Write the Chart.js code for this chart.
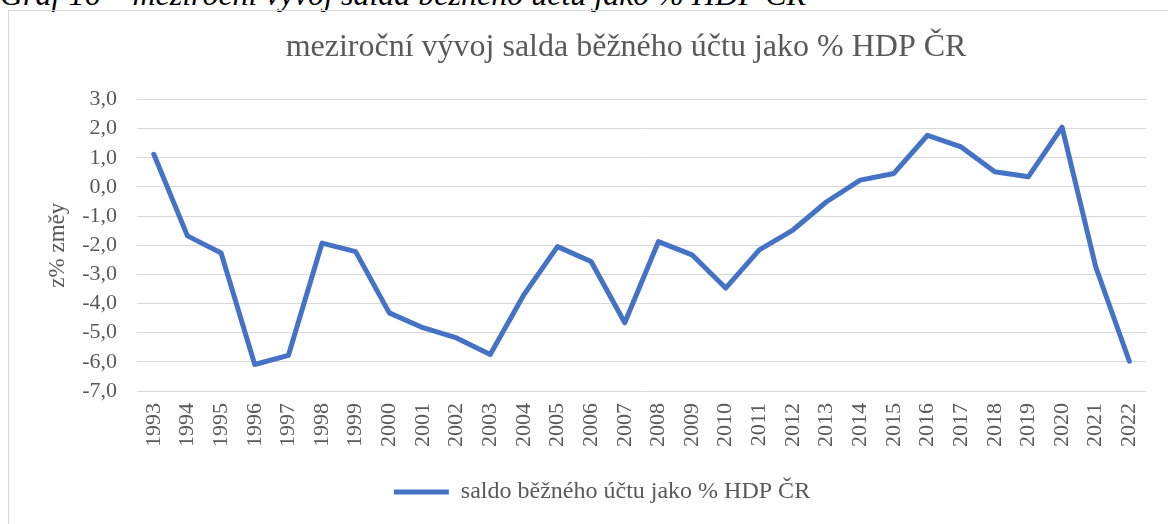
<!DOCTYPE html>
<html lang="cs">
<head>
<meta charset="utf-8">
<title>saldo běžného účtu</title>
<script src="https://cdn.jsdelivr.net/npm/chart.js@4"></script>
<style>
  body { margin: 0; background: #fff; overflow: hidden; }
  #caption {
    position: absolute; left: 0; top: -22px; margin: 0;
    font: italic 32px/32px "Liberation Serif", serif; color: #000; white-space: nowrap;
  }
  #frame {
    position: absolute; left: 8px; top: 10px; width: 1300px; height: 700px;
    border: 1px solid #d9d9d9;
  }
  #myChart { position: absolute; left: 0; top: 0; }
</style>
</head>
<body>
<p id="caption">Graf 16 – meziroční vývoj salda běžného účtu jako % HDP ČR</p>
<div id="frame"></div>
<canvas id="myChart" width="1168" height="524"></canvas>
<script>
const years = ['1993', '1994', '1995', '1996', '1997', '1998', '1999', '2000', '2001', '2002',
  '2003', '2004', '2005', '2006', '2007', '2008', '2009', '2010', '2011', '2012',
  '2013', '2014', '2015', '2016', '2017', '2018', '2019', '2020', '2021', '2022'];
const saldo = [1.12, -1.68, -2.27, -6.09, -5.78, -1.93, -2.22, -4.32, -4.83, -5.18,
  -5.75, -3.70, -2.05, -2.56, -4.66, -1.88, -2.33, -3.47, -2.16, -1.48,
  -0.51, 0.23, 0.46, 1.77, 1.37, 0.52, 0.35, 2.05, -2.74, -5.98];
const chartTitle = 'meziroční vývoj salda běžného účtu jako % HDP ČR';
const seriesName = 'saldo běžného účtu jako % HDP ČR';
const yTitle = 'z% změy';

const grey = '#595959';
const serif = "'Liberation Serif', 'Times New Roman', serif";
Chart.defaults.font.family = serif;
Chart.defaults.color = grey;

// Excel centres title and legend a bit off from where Chart.js puts them
const shiftBlocks = {
  id: 'shiftBlocks',
  afterLayout(chart) {
    chart.titleBlock.left += 30;
    chart.titleBlock.right += 30;
    chart.legend.left += 6;
    chart.legend.right += 6;
  },
};

const myChart = new Chart(document.getElementById('myChart'), {
  type: 'line',
  data: {
    labels: years,
    datasets: [
      {
        label: seriesName,
        data: saldo,
        borderColor: '#4472C4',
        backgroundColor: '#4472C4',
        borderWidth: 5,
        borderCapStyle: 'round',
        borderJoinStyle: 'round',
        pointRadius: 0,
        tension: 0,
      },
    ],
  },
  options: {
    responsive: false,
    animation: false,
    layout: { padding: { left: 40, right: 16, top: 0, bottom: 10 } },
    plugins: {
      tooltip: { enabled: false },
      title: {
        display: true,
        text: chartTitle,
        color: grey,
        font: { family: serif, size: 32, weight: 'normal' },
        padding: { top: 28, bottom: 33 },
      },
      legend: {
        position: 'bottom',
        labels: {
          color: grey,
          font: { family: serif, size: 24 },
          usePointStyle: true,
          pointStyle: 'line',
          pointStyleWidth: 55,
          padding: 10,
        },
      },
    },
    scales: {
      x: {
        offset: true,
        grid: { display: false, drawTicks: false },
        border: { display: false },
        ticks: {
          color: grey,
          font: { family: serif, size: 22 },
          minRotation: 90,
          maxRotation: 90,
          autoSkip: false,
          padding: 12,
        },
        afterFit(scale) { scale.height = 79; },
      },
      y: {
        min: -7,
        max: 3,
        grid: { color: '#d9d9d9', lineWidth: 1, drawTicks: false },
        border: { display: false },
        ticks: {
          stepSize: 1,
          autoSkip: false,
          color: grey,
          font: { family: serif, size: 22 },
          padding: 20,
          callback: (v) => v.toFixed(1).replace('.', ','),
        },
        title: {
          display: true,
          text: yTitle,
          color: grey,
          font: { family: serif, size: 23 },
          padding: { top: 4, bottom: 0 },
        },
        afterFit(scale) { scale.width = 97; },
      },
    },
  },
  plugins: [shiftBlocks],
});
</script>
</body>
</html>
